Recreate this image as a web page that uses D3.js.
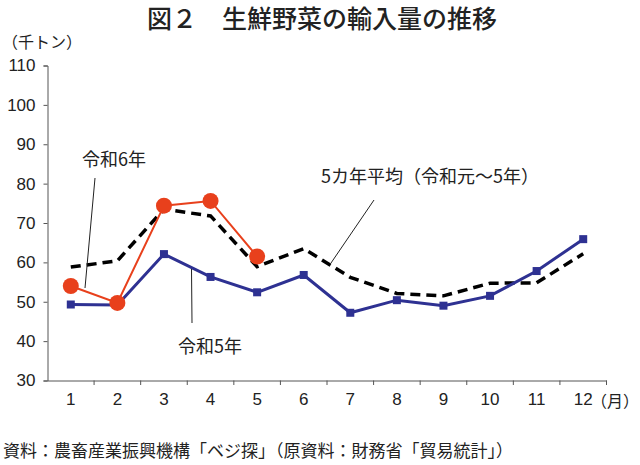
<!DOCTYPE html>
<html><head><meta charset="utf-8">
<script src="https://cdn.jsdelivr.net/npm/d3@7"></script>
<style>
body{margin:0;background:#fff;}
svg{display:block;}
text{font-family:"Noto Sans CJK JP","Liberation Sans",sans-serif;fill:#222;}
.num{font-family:"Liberation Sans","Noto Sans CJK JP",sans-serif;}
</style></head>
<body>
<svg id="c" width="640" height="465"></svg>
<script>
const months = ["1","2","3","4","5","6","7","8","9","10","11","12"];
const r6 = [54.0, 49.7, 74.4, 75.6, 61.5];
const r5 = [49.3, 49.2, 62.1, 56.3, 52.4, 56.8, 47.2, 50.4, 49.0, 51.5, 57.8, 65.9];
const avg5 = [58.8, 60.4, 73.5, 71.8, 58.9, 63.5, 56.2, 52.1, 51.5, 54.7, 54.8, 62.2];
const yTicks = [30, 40, 50, 60, 70, 80, 90, 100, 110];

const svg = d3.select("#c");
const x = d3.scaleBand().domain(months).range([47.5, 606.5]);
const y = d3.scaleLinear().domain([30, 110]).range([380.5, 65.5]);
const cx = m => x(m) + x.bandwidth() / 2;

// title
svg.append("text").attr("x", 322).attr("y", 28).attr("text-anchor", "middle")
  .style("font-size", "25px").style("font-weight", "500").text("図２　生鮮野菜の輸入量の推移");
svg.append("text").attr("x", 2).attr("y", 48).style("font-size", "16px").text("（千トン）");

// y axis
const ya = svg.append("g").attr("transform", "translate(47.5,0)")
  .call(d3.axisLeft(y).tickValues(yTicks).tickSize(4).tickPadding(8));
ya.select(".domain").attr("stroke", "#555");
ya.selectAll(".tick line").attr("stroke", "#555");
ya.selectAll("text").attr("class", "num").style("font-size", "17px").attr("fill", "#222");

// x axis
const xa = svg.append("g").attr("transform", "translate(0,380.5)")
  .call(d3.axisBottom(x).tickSize(0).tickPadding(12));
xa.select(".domain").attr("stroke", "#555");
xa.selectAll("text").attr("class", "num").style("font-size", "17px").attr("fill", "#222");
// boundary ticks
const bounds = months.map(m => x(m)).concat([x.range()[1]]);
svg.append("g").selectAll("line").data(bounds.slice(1)).join("line")
  .attr("x1", d => d).attr("x2", d => d).attr("y1", 380.5).attr("y2", 385)
  .attr("stroke", "#555");
svg.append("text").attr("x", 591).attr("y", 407).style("font-size", "16px").text("（月）");

// lines
const line = d3.line().x((d, i) => cx(months[i])).y(d => y(d));
svg.append("path").datum(avg5).attr("d", line).attr("fill", "none")
  .attr("stroke", "#000").attr("stroke-width", 3.5).attr("stroke-dasharray", "10,6");
svg.append("path").datum(r5).attr("d", line).attr("fill", "none")
  .attr("stroke", "#2E3192").attr("stroke-width", 3);
svg.append("g").selectAll("rect").data(r5).join("rect")
  .attr("x", (d, i) => cx(months[i]) - 4).attr("y", d => y(d) - 4)
  .attr("width", 8).attr("height", 8).attr("fill", "#2E3192");
svg.append("path").datum(r6).attr("d", line).attr("fill", "none")
  .attr("stroke", "#E8401C").attr("stroke-width", 2);
svg.append("g").selectAll("circle").data(r6).join("circle")
  .attr("cx", (d, i) => cx(months[i])).attr("cy", d => y(d)).attr("r", 8)
  .attr("fill", "#E8401C");

// annotations
const ann = svg.append("g");
ann.append("line").attr("x1", 95).attr("y1", 178).attr("x2", 85).attr("y2", 288).attr("stroke", "#222").attr("stroke-width", 1);
ann.append("text").attr("x", 82).attr("y", 166).style("font-size", "18px").text("令和6年");
ann.append("line").attr("x1", 374).attr("y1", 200).attr("x2", 331).attr("y2", 263).attr("stroke", "#222").attr("stroke-width", 1);
ann.append("text").attr("x", 321).attr("y", 183).style("font-size", "18px").text("5カ年平均（令和元～5年）");
ann.append("line").attr("x1", 191.5).attr("y1", 269).attr("x2", 192).attr("y2", 323).attr("stroke", "#222").attr("stroke-width", 1);
ann.append("text").attr("x", 178).attr("y", 353).style("font-size", "18px").text("令和5年");

// source
svg.append("text").attr("x", 3).attr("y", 457).style("font-size", "17px")
  .text("資料：農畜産業振興機構「ベジ探」（原資料：財務省「貿易統計」）");
</script>
</body></html>
